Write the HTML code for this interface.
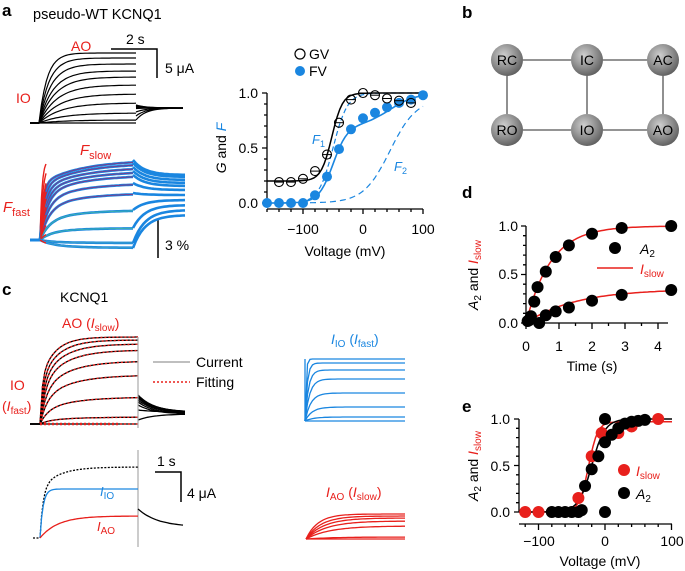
<!DOCTYPE html>
<html><head><meta charset="utf-8"><style>
html,body{margin:0;padding:0;background:#fff;}
svg{display:block;font-family:"Liberation Sans",sans-serif;}
</style></head><body>
<svg id="s" width="685" height="571" viewBox="0 0 685 571" xmlns="http://www.w3.org/2000/svg">
<defs><radialGradient id="g" cx="0.4" cy="0.35" r="0.7"><stop offset="0" stop-color="#cfcfcf"/><stop offset="0.6" stop-color="#8a8a8a"/><stop offset="1" stop-color="#5a5a5a"/></radialGradient></defs>
<g font-weight="bold" font-size="17" fill="#000">
<text x="2" y="16">a</text><text x="462" y="18">b</text><text x="2" y="295">c</text><text x="462" y="198">d</text><text x="462" y="412">e</text></g>
<text x="33" y="19" font-size="14.5">pseudo-WT KCNQ1</text>
<text x="71" y="51" font-size="14" fill="#e8201c">AO</text>
<text x="16" y="103" font-size="14" fill="#e8201c">IO</text>
<text x="126" y="44" font-size="14">2 s</text>
<text x="165" y="73" font-size="14">5 μA</text>
<path d="M111 49H157V78" stroke="#000" stroke-width="1.5" fill="none"/>
<text x="80" y="155" font-size="15" fill="#e8201c" font-style="italic">F<tspan font-style="normal" font-size="11" dy="4">slow</tspan></text>
<text x="3" y="212" font-size="15" fill="#e8201c" font-style="italic">F<tspan font-style="normal" font-size="11" dy="4">fast</tspan></text>
<path d="M158 220V258" stroke="#000" stroke-width="1.5"/>
<text x="165" y="250" font-size="14">3 %</text>
<text x="60" y="302" font-size="14">KCNQ1</text>
<text x="62" y="328" font-size="14" fill="#e8201c">AO (<tspan font-style="italic">I</tspan><tspan font-size="10" dy="3">slow</tspan><tspan dy="-3">)</tspan></text>
<text x="10" y="390" font-size="14" fill="#e8201c">IO</text>
<text x="2" y="411" font-size="14" fill="#e8201c">(<tspan font-style="italic">I</tspan><tspan font-size="10" dy="3">fast</tspan><tspan dy="-3">)</tspan></text>
<path d="M153 362H190" stroke="#999" stroke-width="1.2"/><text x="196" y="367" font-size="14">Current</text>
<path d="M153 382H190" stroke="#e8201c" stroke-width="1.5" stroke-dasharray="2,2"/><text x="196" y="387" font-size="14">Fitting</text>
<text x="100" y="496" font-size="13" fill="#1a86e0" font-style="italic">I<tspan font-style="normal" font-size="10" dy="3">IO</tspan></text>
<text x="97" y="531" font-size="13" fill="#e8201c" font-style="italic">I<tspan font-style="normal" font-size="10" dy="3">AO</tspan></text>
<path d="M155 472H181V502" stroke="#000" stroke-width="1.5" fill="none"/>
<text x="157" y="466" font-size="14">1 s</text><text x="187" y="498" font-size="14">4 μA</text>
<text x="331" y="344" font-size="14" fill="#1a86e0"><tspan font-style="italic">I</tspan><tspan font-size="10" dy="3">IO</tspan><tspan dy="-3"> (</tspan><tspan font-style="italic">I</tspan><tspan font-size="10" dy="3">fast</tspan><tspan dy="-3">)</tspan></text>
<text x="326" y="497" font-size="14" fill="#e8201c"><tspan font-style="italic">I</tspan><tspan font-size="10" dy="3">AO</tspan><tspan dy="-3"> (</tspan><tspan font-style="italic">I</tspan><tspan font-size="10" dy="3">slow</tspan><tspan dy="-3">)</tspan></text>
<g font-size="14">
<circle cx="300" cy="54" r="5" fill="none" stroke="#000" stroke-width="1.2"/><text x="309" y="59">GV</text>
<circle cx="300" cy="71" r="5" fill="#1a86e0"/><text x="309" y="76">FV</text>
<text x="258" y="98" text-anchor="end">1.0</text><text x="258" y="153" text-anchor="end">0.5</text><text x="258" y="208" text-anchor="end">0.0</text>
<text x="303" y="234" text-anchor="middle">−100</text><text x="363" y="234" text-anchor="middle">0</text><text x="423" y="234" text-anchor="middle">100</text>
<text x="345" y="256" text-anchor="middle">Voltage (mV)</text>
<text transform="translate(226,148) rotate(-90)" text-anchor="middle"><tspan font-style="italic">G</tspan> and <tspan font-style="italic" fill="#1a86e0">F</tspan></text>
<text x="312" y="144" fill="#1a86e0" font-style="italic" font-size="13">F<tspan font-style="normal" font-size="9" dy="3">1</tspan></text>
<text x="394" y="171" fill="#1a86e0" font-style="italic" font-size="13">F<tspan font-style="normal" font-size="9" dy="3">2</tspan></text>
</g>
<g stroke="#555" stroke-width="1.3">
<path d="M523 60H571M603 60H647M507 76V114M587 76V114M663 76V114M523 130H571M603 130H647"/></g>
<g font-size="14" text-anchor="middle">
<circle cx="507" cy="60" r="16" fill="url(#g)"/><text x="507" y="65">RC</text>
<circle cx="587" cy="60" r="16" fill="url(#g)"/><text x="587" y="65">IC</text>
<circle cx="663" cy="60" r="16" fill="url(#g)"/><text x="663" y="65">AC</text>
<circle cx="507" cy="130" r="16" fill="url(#g)"/><text x="507" y="135">RO</text>
<circle cx="587" cy="130" r="16" fill="url(#g)"/><text x="587" y="135">IO</text>
<circle cx="663" cy="130" r="16" fill="url(#g)"/><text x="663" y="135">AO</text>
</g>
<g font-size="14">
<text x="518" y="231" text-anchor="end">1.0</text><text x="518" y="279" text-anchor="end">0.5</text><text x="518" y="328" text-anchor="end">0.0</text>
<text x="526" y="351" text-anchor="middle">0</text><text x="559" y="351" text-anchor="middle">1</text><text x="592" y="351" text-anchor="middle">2</text><text x="625" y="351" text-anchor="middle">3</text><text x="658" y="351" text-anchor="middle">4</text>
<text x="592" y="371" text-anchor="middle">Time (s)</text>
<text transform="translate(478,275) rotate(-90)" text-anchor="middle"><tspan font-style="italic">A</tspan><tspan font-size="10" dy="3">2</tspan><tspan dy="-3"> and </tspan><tspan fill="#e8201c" font-style="italic">I</tspan><tspan fill="#e8201c" font-size="10" dy="3">slow</tspan></text>
<circle cx="615" cy="248" r="6" fill="#000"/><text x="640" y="254" font-style="italic">A<tspan font-style="normal" font-size="10" dy="3">2</tspan></text>
<path d="M597 268H633" stroke="#e8201c" stroke-width="1.5"/><text x="640" y="274" fill="#e8201c" font-style="italic">I<tspan font-style="normal" font-size="10" dy="3">slow</tspan></text>
</g>
<g font-size="14">
<text x="510" y="424" text-anchor="end">1.0</text><text x="510" y="471" text-anchor="end">0.5</text><text x="510" y="517" text-anchor="end">0.0</text>
<text x="539" y="546" text-anchor="middle">−100</text><text x="605" y="546" text-anchor="middle">0</text><text x="672" y="546" text-anchor="middle">100</text>
<text x="600" y="566" text-anchor="middle">Voltage (mV)</text>
<text transform="translate(478,466) rotate(-90)" text-anchor="middle"><tspan font-style="italic">A</tspan><tspan font-size="10" dy="3">2</tspan><tspan dy="-3"> and </tspan><tspan fill="#e8201c" font-style="italic">I</tspan><tspan fill="#e8201c" font-size="10" dy="3">slow</tspan></text>
<circle cx="624" cy="470" r="6" fill="#e8201c"/><text x="636" y="476" fill="#e8201c" font-style="italic">I<tspan font-style="normal" font-size="10" dy="3">slow</tspan></text>
<circle cx="624" cy="493" r="6" fill="#000"/><text x="636" y="499" font-style="italic">A<tspan font-style="normal" font-size="10" dy="3">2</tspan></text>
</g>
<g id="dyn"></g>
</svg>
<script>
var NS="http://www.w3.org/2000/svg",D=document.getElementById("dyn");
function el(t,a){var e=document.createElementNS(NS,t);for(var k in a)e.setAttribute(k,a[k]);D.appendChild(e);return e;}
function path(d,st,w,extra){var a={d:d,stroke:st,"stroke-width":w,fill:"none"};for(var k in extra)a[k]=extra[k];return el("path",a);}
function fn(f,x0,x1,n){var s="";for(var i=0;i<=n;i++){var x=x0+(x1-x0)*i/n;var y=f(x);s+=(i?"L":"M")+x.toFixed(1)+" "+y.toFixed(1);}return s;}
function sig(v,h,k){return 1/(1+Math.exp(-(v-h)/k));}
// panel a currents
var lv=[53,58,64,71,77,85,94,103,113,120,123];
lv.forEach(function(L,i){var b=123;
 path("M30 123L39 123"+fn(function(x){var t=x-39;return b-(b-L)*(1-Math.exp(-t/(8+i*2)));},39,136,40).replace(/^M/,"L"),"#000",1.2);
 var s0=i<8?105+i*0.5:112+(i-8)*4;
 path(fn(function(x){return 108+(s0-108)*Math.exp(-(x-136)/10);},136,183,20),"#000",1.2);});
// fluorescence
var fl=[160,163,167,171,175,183,193,210,228,243,248];
var tg=[175,177,180,183,186,190,195,200,205,210,215];
fl.forEach(function(L,i){var b=240;var c=i<7?"#7a3a8a":(i<9?"#3ab0b0":"#3aa0c8");
 var f=function(x){var t=x-40;var fast=(b-L)*0.7,slow=(b-L)*0.3;return b-fast*(1-Math.exp(-t/(3+i)))-slow*(1-Math.exp(-t/40));};
 path("M30 240L40 240"+fn(f,40,133,40).replace(/^M/,"L"),"#1a86e0",2.6);
 path(fn(f,40,133,40),c,1);
 path(fn(function(x){return L+(tg[i]-L)*(1-Math.exp(-(x-133)/12));},133,185,20),"#1a86e0",2.6);
 path(fn(function(x){var t=x-40;return b-(b-L)*(1-Math.exp(-t/(2+i)));},40,46,8),"#e8201c",1.4);
});
path("M267 93V203M262 93H267M262 148H267M262 203H267M264 104H267M264 115H267M264 126H267M264 137H267M264 159H267M264 170H267M264 181H267M264 192H267","#000",1.3);
var ax="M267 209H423";for(var v=-160;v<=100;v+=20){var x=267+(v+160)*0.6;ax+="M"+x+" 209V"+(v%100==0?214:212);}
path(ax,"#000",1.3);
function X(v){return 363+v*0.6;}function Y(g){return 203-g*110;}
path(fn(function(x){var v=(x-363)/0.6;return Y(sig(v,-50,12));},300,423,60),"#1a86e0",1.2,{"stroke-dasharray":"5,3"});
path(fn(function(x){var v=(x-363)/0.6;return Y(sig(v,45,22)*0.95);},270,423,60),"#1a86e0",1.2,{"stroke-dasharray":"6,4"});
path(fn(function(x){var v=(x-363)/0.6;return Y(0.7*sig(v,-50,12)+0.3*sig(v,45,22));},267,423,60),"#1a86e0",1.6);
path(fn(function(x){var v=(x-363)/0.6;return Y(0.2+0.8*sig(v,-52,9));},267,423,60),"#000",1.5);
[[-160,0],[-140,0],[-120,0],[-100,0],[-80,.07],[-60,.24],[-40,.49],[-20,.67],[0,.77],[20,.82],[40,.87],[60,.91],[80,.94],[100,.98]].forEach(function(p){el("circle",{cx:X(p[0]),cy:Y(p[1]),r:5,fill:"#1a86e0"});});
[[-140,.19],[-120,.19],[-100,.22],[-80,.29],[-60,.44],[-40,.73],[-20,.94],[0,1],[20,.98],[40,.95],[60,.93],[80,.91]].forEach(function(p){el("circle",{cx:X(p[0]),cy:Y(p[1]),r:4.5,fill:"none",stroke:"#000","stroke-width":1.1});path("M"+(X(p[0])-4)+" "+Y(p[1])+"h8","#000",1);});
// panel c currents
var cl=[337,340,344,350,361,375,397,417,424];
var ct=[[395,412],[396,412],[397,413],[398,413],[400,413],[402,414],[405,414],[410,412],[420,414]];
cl.forEach(function(L,i){var b=424;var f=function(x){var t=x-40;return b-(b-L)*(0.5*(1-Math.exp(-t/(2+i)))+0.5*(1-Math.exp(-t/(14+i*3))));};
 path("M30 424L40 424"+fn(f,40,138,40).replace(/^M/,"L"),"#000",1.3);
 path(fn(f,40,138,40),"#e8201c",1.4,{"stroke-dasharray":"2,2"});
 var s=ct[i][0],e=ct[i][1];path(fn(function(x){return e+(s-e)*Math.exp(-(x-138)/16);},138,185,20),"#000",1.3);});
path("M40 424H120","#e8201c",2.5,{"stroke-dasharray":"2,2"});
path("M138 337V428","#aaa",1.2);
path("M138 450V547","#aaa",1.2);
path("M33 538H40"+fn(function(x){var t=x-40;return 538-(538-489)*(1-Math.exp(-t/3))-(538-516)*(1-Math.exp(-t/18));},40,138,60).replace(/^M/,"L"),"#000",1.3,{"stroke-dasharray":"2,1.5"});
path(fn(function(x){var t=x-40;return 538-(538-489)*(1-Math.exp(-t/3));},40,138,60),"#1a86e0",1.3);
path(fn(function(x){var t=x-40;return 538-(538-516)*(1-Math.exp(-t/18));},40,138,60),"#e8201c",1.3);
path(fn(function(x){return 527-18*Math.exp(-(x-138)/20);},138,183,20),"#000",1.3);
[359,363,370,379,393,407,417,421].forEach(function(L,i){path(fn(function(x){return 421-(421-L)*(1-Math.exp(-(x-305)/(1+i*1.2)));},305,405,40),"#1a86e0",1.3);});
path("M305 359V421","#1a86e0",1.3);
[514,516,518,521,526,537,539].forEach(function(L,i){path(fn(function(x){return 539-(539-L)*(1-Math.exp(-(x-306)/(12+i*3)));},306,405,40),"#e8201c",1.3);});
// panel d
var d="M526 226V323M521 226H526M521 274.5H526M521 323H526";for(var k=1;k<10;k++){if(k!=5)d+="M523 "+(323-k*9.7)+"H526";}
d+="M522 323H668";for(var t=0;t<=4.2;t+=0.5){var x=526+t*33;d+="M"+x+" 323V"+(t%1==0?329:326);}
path(d,"#000",1.3);
function dx(t){return 526+t*33;}function dy(g){return 323-g*97;}
path(fn(function(x){var t=(x-526)/33;return dy(1-Math.exp(-t/0.75));},526,672,60),"#e8201c",1.5);
path(fn(function(x){var t=(x-526)/33;return dy(0.35*(1-Math.exp(-t/1.5)));},526,672,60),"#e8201c",1.5);
[[.05,.02],[.15,.07],[.25,.22],[.35,.37],[.6,.53],[.9,.68],[1.3,.8],[2,.92],[2.9,.98],[4.4,1],[.1,.03],[.4,0],[.6,.08],[.9,.12],[1.3,.16],[2,.23],[2.9,.29],[4.4,.34]].forEach(function(p){el("circle",{cx:dx(p[0]),cy:dy(p[1]),r:6,fill:"#000"});});
// panel e
var e="M519 419V512M514 419H519M514 465.5H519M514 512H519";for(var k=1;k<10;k++){if(k!=5)e+="M516 "+(512-k*9.3)+"H519";}
e+="M519 524H672";for(var v=-120;v<=100;v+=20){var x=605+v*0.665;e+="M"+x+" 524V"+(v%100==0?530:527);}
path(e,"#000",1.3);
function ex(v){return 605+v*0.665;}function ey(g){return 512-g*93;}
path(fn(function(x){var v=(x-605)/0.665;return ey(sig(v,-25,7)*0.97);},519,672,60),"#e8201c",1.5);
path(fn(function(x){var v=(x-605)/0.665;return ey(sig(v,-20,10));},519,672,60),"#000",1.5);
[[-120,0],[-100,0],[-40,.15],[-20,.6],[-5,.85],[20,.85],[40,.92],[80,1]].forEach(function(p){el("circle",{cx:ex(p[0]),cy:ey(p[1]),r:6,fill:"#e8201c"});});
[[-80,0],[-70,0],[-60,0],[-50,0],[-40,0],[-35,.02],[-30,.28],[-20,.46],[-10,.6],[0,.75],[0,1],[0,0],[10,.83],[20,.9],[30,.95],[40,.97],[50,.98],[60,.99]].forEach(function(p){el("circle",{cx:ex(p[0]),cy:ey(p[1]),r:6,fill:"#000"});});
</script>
</body></html>
